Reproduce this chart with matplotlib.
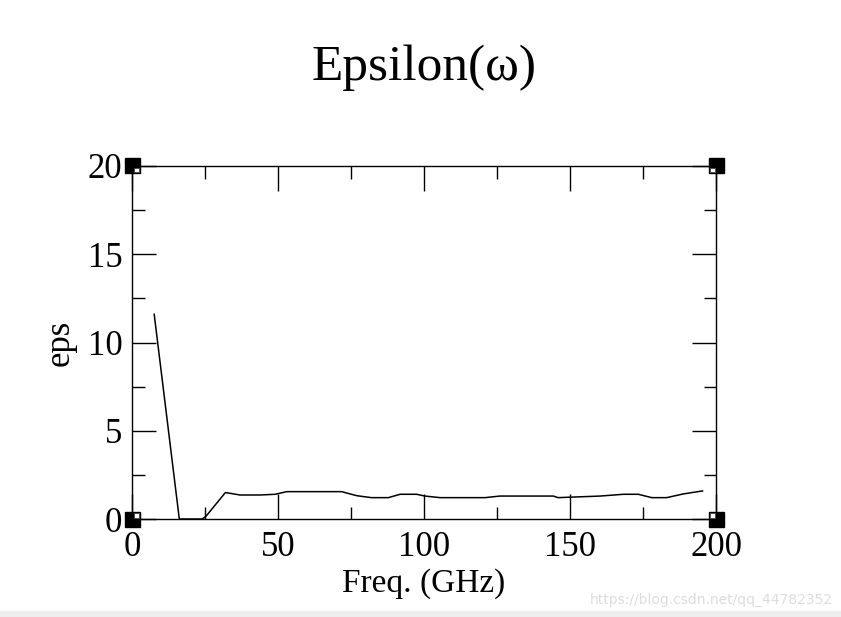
import numpy as np
import matplotlib
matplotlib.use("Agg")
import matplotlib.pyplot as plt
from matplotlib.ticker import MultipleLocator
from matplotlib.patches import Rectangle

# values
freq = [7.6, 16.2, 24.0, 25.3, 32.0, 37.0, 43.8, 49.0, 53.0, 71.8, 74.7, 77.0,
        82.0, 87.8, 91.8, 97.5, 100.3, 105.5, 120.9, 126.0, 144.3, 145.9,
        160.3, 168.3, 173.4, 178.0, 183.1, 188.8, 195.4]
eps = [11.6, 0.0, 0.0, 0.15, 1.5, 1.36, 1.36, 1.4, 1.55, 1.55, 1.42, 1.32,
       1.21, 1.21, 1.4, 1.4, 1.3, 1.21, 1.21, 1.3, 1.3, 1.21,
       1.3, 1.4, 1.4, 1.21, 1.21, 1.42, 1.59]

plt.rcParams['font.family'] = ['Liberation Serif', 'DejaVu Serif']

fig = plt.figure(figsize=(8.41, 6.17), dpi=100)
ax = fig.add_axes([132/841, 1-519/617, (716-132)/841, (519-166)/617])

ax.plot(freq, eps, color='black', lw=1.1, clip_on=False, zorder=3)
ax.set_xlim(0, 200)
ax.set_ylim(0, 20)

ax.xaxis.set_major_locator(MultipleLocator(50))
ax.xaxis.set_minor_locator(MultipleLocator(25))
ax.yaxis.set_major_locator(MultipleLocator(5))
ax.yaxis.set_minor_locator(MultipleLocator(2.5))
ax.tick_params(which='both', direction='in', top=True, right=True, width=1.0,
               labelsize=25, colors='black')
ax.tick_params(axis='x', which='major', length=18, pad=9)
ax.tick_params(axis='y', which='major', length=17, pad=7)
ax.tick_params(which='minor', length=9)
for s in ax.spines.values():
    s.set_linewidth(1.0)

ax.set_xlabel('Freq. (GHz)', fontsize=24, labelpad=3)
ax.set_ylabel('eps', fontsize=25, labelpad=8)
fig.text(424/841, 1-68/617, 'Epsilon(ω)', ha='center', va='center', fontsize=37)

# corner handles (black square, white inner quadrant)
x0, x1 = ax.get_xlim()
y0, y1 = ax.get_ylim()
px = (x1 - x0) / 584.0
py = (y1 - y0) / 353.0
for cx, sx in [(x0, 1), (x1, -1)]:
    for cy, sy in [(y0, 1), (y1, -1)]:
        ax.add_patch(Rectangle((cx - 7.5*px, cy - 7.5*py), 15*px, 15*py,
                               color='black', clip_on=False, zorder=5))
        ax.add_patch(Rectangle((cx + sx*1.5*px, cy + sy*1.5*py), sx*5*px, sy*5*py,
                               facecolor='white', edgecolor='#444444', lw=0.6,
                               clip_on=False, zorder=6))

# watermark and bottom band
fig.text(833/841, 1-600/617, 'https://blog.csdn.net/qq_44782352', ha='right', va='center',
         fontsize=10, color='#dddddd', family=['DejaVu Sans'])
fig.patches.append(Rectangle((0, 0), 1, 6/617, transform=fig.transFigure,
                             color='#eeeeee', zorder=0))

fig.savefig('out.png', dpi=100)
